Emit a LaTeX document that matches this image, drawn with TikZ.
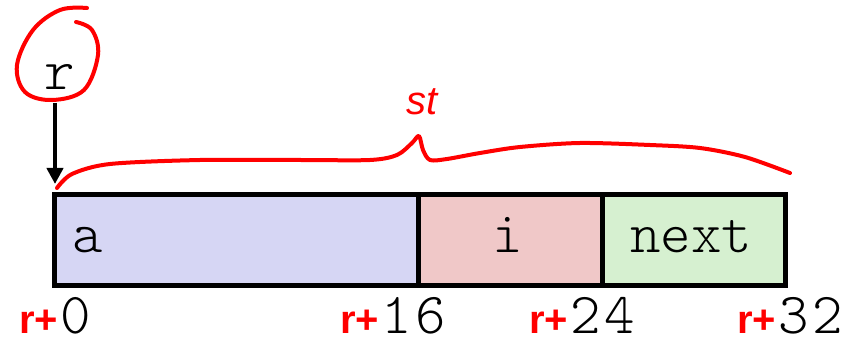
\documentclass[tikz,border=0pt]{standalone}
\usepackage{fontspec}
\setmainfont{Liberation Sans}
\newfontfamily\lightmono{Latin Modern Mono Light}
\usetikzlibrary{arrows.meta}
\definecolor{afill}{RGB}{214,214,244}
\definecolor{ifill}{RGB}{240,200,200}
\definecolor{nfill}{RGB}{214,240,208}
\definecolor{ink}{RGB}{255,0,0}
\newcommand{\offs}[1]{{\color{ink}\bfseries\fontsize{40}{40}\selectfont r+}\kern2pt{\lightmono\fontsize{58}{58}\selectfont #1}}
\begin{document}
\begin{tikzpicture}[x=1pt,y=-1pt,
  cell/.style={draw=black,line width=5pt,minimum height=91pt,inner sep=0pt,anchor=north west},
  mono/.style={font=\lightmono\fontsize{58}{58}\selectfont,inner sep=0pt,anchor=base},
  redhand/.style={draw=ink,line width=4pt,line cap=round,line join=round},
  offset/.style={inner sep=0pt,anchor=base west,text depth=0pt}]
\useasboundingbox (0,0) rectangle (841,339);
% boxes
\node[cell,fill=afill,minimum width=364pt] (abox) at (52,192) {};
\node[cell,fill=ifill,minimum width=184pt] (ibox) at (416,192) {};
\node[cell,fill=nfill,minimum width=183pt] (nbox) at (600,192) {};
\node[mono] (atext) at (88,253) {a};
\node[mono] (itext) at (508,253) {i};
\node[mono] (ntext) at (691,253) {next};
% pointer r
\node[mono] (r) at (60,90) {r};
\coordinate (rtip) at (55,184);
\draw[line width=4pt,-{Triangle[length=16pt,width=16pt]}] (55,103) -- (rtip);
% circle around r
\draw[redhand] plot[smooth,tension=0.6] coordinates {(87,8) (60,10) (33,30) (17,65) (25,92) (52,100) (84,90) (98,55) (92,30) (76,22)};
% brace
\draw[redhand] plot[smooth,tension=0.5] coordinates {(57,188) (72,174) (110,164) (200,160) (300,160) (370,160) (397,155) (412,143) (419,136) (423,150) (430,160) (447,159) (480,153) (520,147) (580,143) (650,145) (700,148) (745,157) (790,173)};
\node[font=\itshape\fontsize{40}{40}\selectfont,text=ink,inner sep=0pt] (st) at (422,102) {st};
% offsets
\node[offset] (o0) at (19,333) {\offs{0}};
\node[offset] (o16) at (340,333) {\offs{1\kern4pt6}};
\node[offset] (o24) at (529,333) {\offs{2\kern4pt4}};
\node[offset] (o32) at (737,333) {\offs{3\kern4pt2}};
\end{tikzpicture}
\end{document}
